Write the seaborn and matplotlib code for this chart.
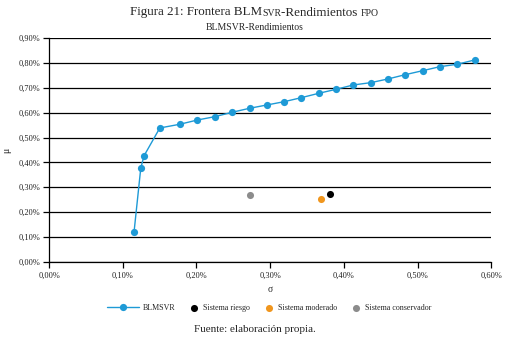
import matplotlib
matplotlib.use("Agg")
import matplotlib.pyplot as plt
import seaborn as sns
import pandas as pd
from matplotlib.ticker import FuncFormatter, MultipleLocator
from matplotlib.legend_handler import HandlerLine2D

# Data (in percent units)
sigma_blmsvr = [0.1154, 0.1245, 0.1290, 0.1503, 0.1774, 0.2014, 0.2249, 0.2484, 0.2720, 0.2955,
                0.3190, 0.3423, 0.3661, 0.3896, 0.4127, 0.4363, 0.4598, 0.4832, 0.5069, 0.5303,
                0.5538, 0.5774]
mu_blmsvr = [0.1209, 0.3775, 0.4271, 0.5387, 0.5536, 0.5709, 0.5842, 0.6019, 0.6180, 0.6313,
             0.6446, 0.6608, 0.6785, 0.6946, 0.7119, 0.7212, 0.7361, 0.7534, 0.7695, 0.7857,
             0.7953, 0.8127]
systems = ["Sistema riesgo", "Sistema moderado", "Sistema conservador"]
sigma_sys = [0.3810, 0.3684, 0.2720]
mu_sys = [0.2716, 0.2526, 0.2699]
sys_colors = ["#000000", "#f0961e", "#8c8c8c"]
blue = "#1e9ad6"

sns.set_theme(style="white")
plt.rcParams['font.family'] = ['Liberation Serif', 'DejaVu Serif']

fig = plt.figure(figsize=(5.09, 3.41), dpi=100)
ax = fig.add_axes([0.0963, 0.2326, 0.8689, 0.6551])

df = pd.DataFrame({"sigma": sigma_blmsvr, "mu": mu_blmsvr})
sns.lineplot(data=df, x="sigma", y="mu", ax=ax, color=blue, linewidth=1.0, marker="o",
             markersize=5.2, markeredgewidth=0, label="BLMSVR", zorder=3)
for s, m, name, c in zip(sigma_sys, mu_sys, systems, sys_colors):
    sns.scatterplot(x=[s], y=[m], ax=ax, color=c, s=26, linewidth=0, label=name, zorder=3)

ax.set_xlim(0, 0.6)
ax.set_ylim(0, 0.9)
ax.xaxis.set_major_locator(MultipleLocator(0.1))
ax.yaxis.set_major_locator(MultipleLocator(0.1))
fmt = FuncFormatter(lambda v, p: f"{v:.2f}%".replace(".", ","))
ax.xaxis.set_major_formatter(fmt)
ax.yaxis.set_major_formatter(fmt)
ax.grid(axis="y", color="black", linewidth=0.9)
ax.grid(axis="x", visible=False)
for sp in ["top", "right"]:
    ax.spines[sp].set_visible(False)
for sp in ["left", "bottom"]:
    ax.spines[sp].set_color("black")
    ax.spines[sp].set_linewidth(0.9)
ax.tick_params(axis="both", which="major", length=4, width=0.9, color="black",
               labelsize=6, pad=2, bottom=True, left=True, labelcolor="#222222")
ax.tick_params(axis="x", pad=3)
ax.set_xlabel("σ", fontsize=7, labelpad=4)
ax.set_ylabel("μ", fontsize=7)
ax.yaxis.set_label_coords(-0.086, 0.5)


class LongLineHandler(HandlerLine2D):
    def __init__(self, extra, **kw):
        super().__init__(**kw)
        self.extra = extra

    def create_artists(self, legend, orig_handle, xdescent, ydescent, width, height,
                       fontsize, trans):
        return super().create_artists(legend, orig_handle, xdescent + self.extra, ydescent,
                                      width + self.extra, height, fontsize, trans)


handles, labels = ax.get_legend_handles_labels()
if ax.legend_:
    ax.legend_.remove()
leg = fig.legend(handles, labels, loc="center left", bbox_to_anchor=(129 / 509, 1 - 308 / 341),
                 bbox_transform=fig.transFigure, ncol=4, frameon=False, fontsize=5.8,
                 handlelength=1.2, columnspacing=1.75, handletextpad=0.5, borderpad=0,
                 borderaxespad=0, handler_map={handles[0]: LongLineHandler(extra=16)})

fig.text(0.5, 1 - 28 / 341, "BLMSVR-Rendimientos", ha="center", va="center", fontsize=7)
fig.text(0.5, 1 - 329 / 341, "Fuente: elaboración propia.", ha="center", va="center", fontsize=8)

# Title with small caps emulation
pieces = [("Figura 21: Frontera BLM", 9.4), ("SVR", 7.0), ("-Rendimientos ", 9.4), ("FPO", 7.0)]
renderer = fig.canvas.get_renderer()
texts = []
widths = []
for s, fs in pieces:
    t = fig.text(0, 1 - 15.5 / 341, s, fontsize=fs, ha="left", va="baseline")
    bb = t.get_window_extent(renderer=renderer)
    texts.append(t)
    widths.append(bb.width)
total = sum(widths)
W = fig.get_figwidth() * fig.dpi
x = (W - total) / 2
for t, w in zip(texts, widths):
    t.set_x(x / W)
    x += w

fig.savefig("out.png", dpi=100)
